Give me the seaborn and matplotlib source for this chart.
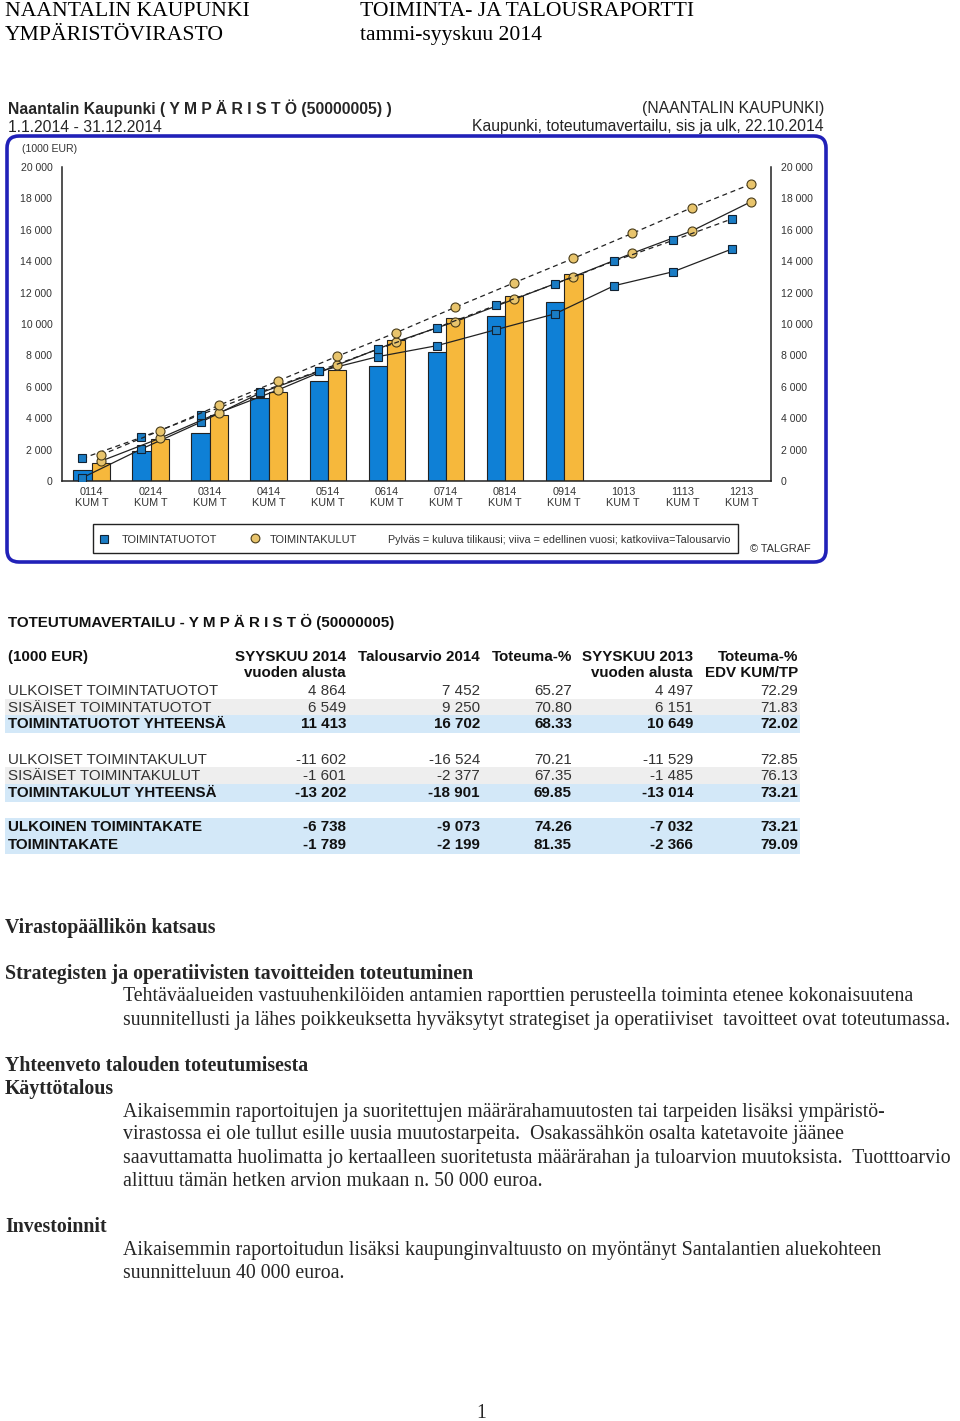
import numpy as np
import pandas as pd
import matplotlib
matplotlib.use("Agg")
import matplotlib.pyplot as plt
import seaborn as sns
from matplotlib.patches import FancyBboxPatch, Rectangle
from matplotlib.ticker import FuncFormatter, FixedLocator

# ---------------- data ----------------
months = ["0114", "0214", "0314", "0414", "0514", "0614",
          "0714", "0814", "0914", "1013", "1113", "1213"]
month_labels = [m + "\nKUM T" for m in months]

# bars: current year cumulative (Jan-Sep 2014)
tuotot_2014 = [700, 1900, 3050, 5300, 6350, 7350, 8200, 10500, 11413]
kulut_2014 = [1170, 2650, 4200, 5650, 7100, 9000, 10400, 11800, 13202]

# solid lines: previous year cumulative
tuotot_2013 = [210, 2040, 3740, 5590, 6980, 7920, 8620, 9640, 10649, 12440, 13330, 14786]
kulut_2013 = [1260, 2720, 4350, 5800, 7380, 8870, 10150, 11580, 13014, 14510, 15920, 17776]

# dashed lines: budget cumulative
tuotot_budget = [1440, 2780, 4220, 5650, 7010, 8390, 9770, 11190, 12550, 14010, 15330, 16702]
kulut_budget = [1650, 3200, 4820, 6370, 7940, 9450, 11060, 12630, 14180, 15780, 17400, 18901]

y_ticks = [0, 2000, 4000, 6000, 8000, 10000, 12000, 14000, 16000, 18000, 20000]

# table
row_labels = ["ULKOISET TOIMINTATUOTOT", "SISÄISET TOIMINTATUOTOT", "TOIMINTATUOTOT YHTEENSÄ",
              "ULKOISET TOIMINTAKULUT", "SISÄISET TOIMINTAKULUT", "TOIMINTAKULUT YHTEENSÄ",
              "ULKOINEN TOIMINTAKATE", "TOIMINTAKATE"]
syyskuu_2014 = [4864, 6549, 11413, -11602, -1601, -13202, -6738, -1789]
talousarvio_2014 = [7452, 9250, 16702, -16524, -2377, -18901, -9073, -2199]
toteuma_pct = [65.27, 70.80, 68.33, 70.21, 67.35, 69.85, 74.26, 81.35]
syyskuu_2013 = [4497, 6151, 10649, -11529, -1485, -13014, -7032, -2366]
toteuma_edv_pct = [72.29, 71.83, 72.02, 72.85, 76.13, 73.21, 73.21, 79.09]
row_bold = [False, False, True, False, False, True, True, True]
row_bg = [None, "grey", "blue", None, "grey", "blue", "blue", "blue"]

# ---------------- style ----------------
sns.set_theme(style="white")
SANS = ["Liberation Sans", "DejaVu Sans"]
SERIF = ["Liberation Serif", "DejaVu Serif"]
plt.rcParams["font.family"] = SANS

BLUE = "#0f80d6"
ORANGE = "#f6b83c"
MBLUE = "#1a7cc4"
MORANGE = "#e8c46c"
DARK = "#222222"


def fmt_thousands(v):
    s = f"{abs(int(round(v))):,}".replace(",", " ")
    return ("-" if v < 0 else "") + s


fig = plt.figure(figsize=(9.6, 14.21), dpi=100)
page = fig.add_axes([0, 0, 1, 1])
page.set_xlim(0, 960)
page.set_ylim(1421, 0)
page.axis("off")


def T(x, y, s, **kw):
    kw.setdefault("va", "center")
    page.text(x, y, s, **kw)


# ---------------- page header ----------------
for (x, y, s) in [(5, 16, "NAANTALIN KAUPUNKI"), (5, 40, "YMPÄRISTÖVIRASTO"),
                  (360, 16, "TOIMINTA- JA TALOUSRAPORTTI"), (360, 40, "tammi-syyskuu 2014")]:
    T(x, y, s, family=SERIF, size=15.6, color="black", va="baseline")

# ---------------- chart header + frame ----------------
HS = 11.3
T(8, 108, "Naantalin Kaupunki ( Y M P Ä R I S T Ö (50000005) )", size=HS, weight="bold")
T(8, 127, "1.1.2014 - 31.12.2014", size=HS)
T(824, 109, "(NAANTALIN KAUPUNKI)", size=HS, ha="right")
T(824, 127, "Kaupunki, toteutumavertailu, sis ja ulk, 22.10.2014", size=HS, ha="right")

frame = FancyBboxPatch((7, 136), 819, 426, boxstyle="round,pad=0,rounding_size=12",
                       ec="#2121b8", fc="white", lw=2.6, zorder=1)
page.add_patch(frame)
T(22, 149, "(1000 EUR)", size=7.6, color="#333333", zorder=3)

# legend box
LS = 7.9
page.add_patch(Rectangle((93, 524), 645, 29, ec=DARK, fc="white", lw=1.0, zorder=2))
page.plot([104], [539], marker="s", ms=6, mfc=MBLUE, mec="#123", mew=0.8, ls="none", zorder=3)
T(122, 540, "TOIMINTATUOTOT", size=LS, color="#333333", zorder=3)
page.plot([255], [538], marker="o", ms=6.3, mfc=MORANGE, mec="#4a3d1a", mew=0.8, ls="none", zorder=3)
T(270, 540, "TOIMINTAKULUT", size=LS, color="#333333", zorder=3)
T(388, 540, "Pylväs = kuluva tilikausi; viiva = edellinen vuosi; katkoviiva=Talousarvio",
  size=7.75, color="#333333", zorder=3)
T(750, 549, "© TALGRAF", size=LS, color="#333333", zorder=3)

# ---------------- chart ----------------
ax = fig.add_axes([62 / 960, (1421 - 481) / 1421, 709 / 960, 314 / 1421])
ax.set_facecolor("none")

bars = pd.DataFrame({
    "kk": month_labels[:len(tuotot_2014)] * 2,
    "sarja": ["TOIMINTATUOTOT"] * len(tuotot_2014) + ["TOIMINTAKULUT"] * len(kulut_2014),
    "arvo": tuotot_2014 + kulut_2014,
})
sns.barplot(data=bars, x="kk", y="arvo", hue="sarja", order=month_labels,
            hue_order=["TOIMINTATUOTOT", "TOIMINTAKULUT"],
            palette={"TOIMINTATUOTOT": BLUE, "TOIMINTAKULUT": ORANGE},
            saturation=1, width=0.62, dodge=True, edgecolor=DARK, linewidth=0.8,
            legend=False, ax=ax, zorder=2)

off = 0.155
xi = np.arange(len(months))
mk_sq = dict(marker="s", ms=6.2, mfc=MBLUE, mec="#112233", mew=0.8)
mk_ci = dict(marker="o", ms=6.5, mfc=MORANGE, mec="#4a3d1a", mew=0.8)
ax.plot(xi - off, tuotot_2013, color=DARK, lw=0.9, zorder=4, **mk_sq)
ax.plot(xi + off, kulut_2013, color=DARK, lw=0.9, zorder=4, **mk_ci)
ax.plot(xi - off, tuotot_budget, color=DARK, lw=0.9, ls=(0, (4, 3)), zorder=4, **mk_sq)
ax.plot(xi + off, kulut_budget, color=DARK, lw=0.9, ls=(0, (4, 3)), zorder=4, **mk_ci)

ax.set_xlim(-0.5, len(months) - 0.5)
ax.set_ylim(0, 20000)
ax.set_xlabel("")
ax.set_ylabel("")
ax.set_yticks(y_ticks)
ax.yaxis.set_major_formatter(FuncFormatter(lambda v, p: fmt_thousands(v)))
ax.tick_params(axis="y", length=0, pad=7, labelsize=7.6, labelcolor="#333333",
               labelleft=True, labelright=True)
ax.set_xticks(xi)
ax.set_xticklabels(month_labels, linespacing=1.15)
ax.tick_params(axis="x", which="major", length=0, pad=4, labelsize=7.8, labelcolor="#333333")
ax.xaxis.set_minor_locator(FixedLocator(np.arange(-0.5, len(months), 1.0)))
ax.tick_params(axis="x", which="minor", length=8, width=1.2, direction="inout", color=DARK)
for s in ["left", "right", "bottom"]:
    ax.spines[s].set_visible(True)
    ax.spines[s].set_color(DARK)
    ax.spines[s].set_linewidth(1.1)
ax.spines["top"].set_visible(False)
ax.grid(False)

# ---------------- table ----------------
TS = 10.9
T(8, 622, "TOTEUTUMAVERTAILU - Y M P Ä R I S T Ö (50000005)", size=TS, weight="bold", color="#111")
col_x = [346, 480, 572, 693, 798]
T(8, 657, "(1000 EUR)", size=TS, weight="bold", color="#111")
heads = [("SYYSKUU 2014", "vuoden alusta"), ("Talousarvio 2014", ""), ("Toteuma-%", ""),
         ("SYYSKUU 2013", "vuoden alusta"), ("Toteuma-%", "EDV KUM/TP")]
for cx, (h1, h2) in zip(col_x, heads):
    T(cx, 657, h1, size=TS, weight="bold", ha="right", color="#111")
    if h2:
        T(cx, 673, h2, size=TS, weight="bold", ha="right", color="#111")

row_y = [691, 707.5, 724, 760, 776, 793, 827, 845]
for y, bg in zip(row_y, row_bg):
    if bg is not None:
        page.add_patch(Rectangle((5, y - 9), 795, 17.5,
                                 fc="#eeeeee" if bg == "grey" else "#d3e8f8",
                                 ec="none", zorder=0.5))
for i, y in enumerate(row_y):
    w = "bold" if row_bold[i] else "normal"
    c = "#111" if row_bold[i] else "#333"
    T(8, y, row_labels[i], size=TS, weight=w, color=c)
    vals = [fmt_thousands(syyskuu_2014[i]), fmt_thousands(talousarvio_2014[i]),
            f"{toteuma_pct[i]:.2f}", fmt_thousands(syyskuu_2013[i]),
            f"{toteuma_edv_pct[i]:.2f}"]
    for cx, v in zip(col_x, vals):
        T(cx, y, v, size=TS, weight=w, color=c, ha="right")

# ---------------- text section ----------------
FS = 14.35
T(5, 928, "Virastopäällikön katsaus", family=SERIF, size=FS, weight="bold")
T(5, 974, "Strategisten ja operatiivisten tavoitteiden toteutuminen", family=SERIF, size=FS, weight="bold")
T(123, 997, "Tehtäväalueiden vastuuhenkilöiden antamien raporttien perusteella toiminta etenee kokonaisuutena",
  family=SERIF, size=FS)
T(123, 1020, "suunnitellusti ja lähes poikkeuksetta hyväksytyt strategiset ja operatiiviset  tavoitteet ovat toteutumassa.",
  family=SERIF, size=FS)
T(5, 1066, "Yhteenveto talouden toteutumisesta", family=SERIF, size=FS, weight="bold")
T(5, 1089, "Käyttötalous", family=SERIF, size=FS, weight="bold")
T(123, 1112, "Aikaisemmin raportoitujen ja suoritettujen määrärahamuutosten tai tarpeiden lisäksi ympäristö-",
  family=SERIF, size=FS)
T(123, 1135, "virastossa ei ole tullut esille uusia muutostarpeita.  Osakassähkön osalta katetavoite jäänee",
  family=SERIF, size=FS)
T(123, 1158, "saavuttamatta huolimatta jo kertaalleen suoritetusta määrärahan ja tuloarvion muutoksista.  Tuotttoarvio",
  family=SERIF, size=FS)
T(123, 1181, "alittuu tämän hetken arvion mukaan n. 50 000 euroa.", family=SERIF, size=FS)
T(5, 1227, "Investoinnit", family=SERIF, size=FS, weight="bold")
T(123, 1250, "Aikaisemmin raportoitudun lisäksi kaupunginvaltuusto on myöntänyt Santalantien aluekohteen",
  family=SERIF, size=FS)
T(123, 1273, "suunnitteluun 40 000 euroa.", family=SERIF, size=FS)
T(481, 1414, "1", family=SERIF, size=FS, ha="center")

fig.savefig("out.png", dpi=100, facecolor="white")
